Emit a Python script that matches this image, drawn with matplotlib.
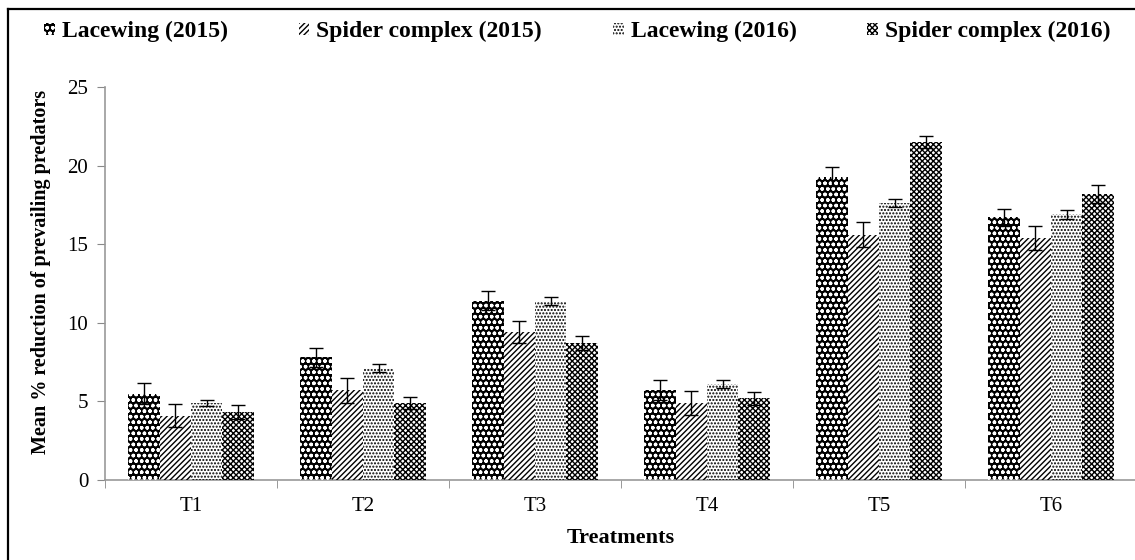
import matplotlib.pyplot as plt
import numpy as np
from matplotlib.patches import Patch
from matplotlib.lines import Line2D

plt.rcParams['font.family'] = ['Liberation Serif', 'DejaVu Serif']
plt.rcParams['hatch.linewidth'] = 1.0

# data
treatments = ['T1', 'T2', 'T3', 'T4', 'T5', 'T6']
series_names = ['Lacewing (2015)', 'Spider complex (2015)', 'Lacewing (2016)', 'Spider complex (2016)']
lacewing_2015 = [5.5, 7.8, 11.4, 5.7, 19.3, 16.7]
spider_2015 = [4.1, 5.7, 9.4, 4.9, 15.6, 15.4]
lacewing_2016 = [4.9, 7.1, 11.4, 6.1, 17.6, 16.9]
spider_2016 = [4.3, 4.9, 8.7, 5.2, 21.5, 18.2]
err_l15 = [0.64, 0.6, 0.6, 0.64, 0.6, 0.55]
err_s15 = [0.76, 0.8, 0.7, 0.76, 0.8, 0.76]
err_l16 = [0.2, 0.25, 0.27, 0.26, 0.25, 0.3]
err_s16 = [0.45, 0.4, 0.43, 0.42, 0.4, 0.55]

values = [lacewing_2015, spider_2015, lacewing_2016, spider_2016]
errors = [err_l15, err_s15, err_l16, err_s16]
# (face, hatch colour, hatch)
styles = [('black', 'white', 'ooo'),
          ('white', 'black', '//////'),
          ('white', 'black', '.....'),
          ('white', 'black', 'xxxxxx')]

fig = plt.figure(figsize=(11.35, 5.6), dpi=100)
ax = fig.add_axes([105/1135, 1-480/560, 1032/1135, 393/560])

x = np.arange(len(treatments))
w = 0.182
for k in range(4):
    pos = x - 1.5*w + k*w
    fc, hc, h = styles[k]
    ax.bar(pos, values[k], w, color=fc, linewidth=0, zorder=2)
    ax.bar(pos, values[k], w, facecolor='none', edgecolor=hc, hatch=h, linewidth=0, zorder=3)
    ax.errorbar(pos, values[k], yerr=errors[k], fmt='none', ecolor='black',
                elinewidth=1, capsize=5, capthick=1, zorder=4)

ax.set_xlim(-0.5, 5.5)
ax.set_ylim(0, 25)
ax.set_yticks([0, 5, 10, 15, 20, 25])
ax.set_xticks(x)
ax.set_xticklabels(treatments)
ax.set_xticks(np.arange(-0.5, 6, 1), minor=True)
ax.tick_params(axis='x', which='major', length=0, pad=12, labelsize=15)
ax.tick_params(axis='x', which='minor', length=6, color='#888888', direction='out')
ax.tick_params(axis='y', length=6, color='#888888', labelsize=15, pad=6)
for s in ['top', 'right']:
    ax.spines[s].set_visible(False)
for s in ['left', 'bottom']:
    ax.spines[s].set_color('#999999')
    ax.spines[s].set_linewidth(1.2)

ax.set_xlabel('Treatments', fontsize=16, fontweight='bold', labelpad=9)
ax.set_ylabel('Mean % reduction of prevailing predators', fontsize=14.5, fontweight='bold')
ax.yaxis.set_label_coords(-0.052, 0.53)

handles = []
for k in range(4):
    fc, hc, h = styles[k]
    handles.append(Patch(facecolor=fc, edgecolor=hc, hatch=h, linewidth=0))
fig.legend(handles, series_names, loc='upper left', bbox_to_anchor=(23/1135, 1.0),
           ncol=4, frameon=False, handlelength=0.45, handleheight=0.45, handletextpad=0.3,
           columnspacing=3.0, prop={'weight': 'bold', 'size': 17})

# outer frame (only left and top edges inside the picture)
fig.add_artist(Line2D([8/1135, 8/1135], [0, 1-9/560], color='black', linewidth=1.6))
fig.add_artist(Line2D([8/1135, 1], [1-9/560, 1-9/560], color='black', linewidth=1.6))

fig.savefig('out.png', dpi=100)
